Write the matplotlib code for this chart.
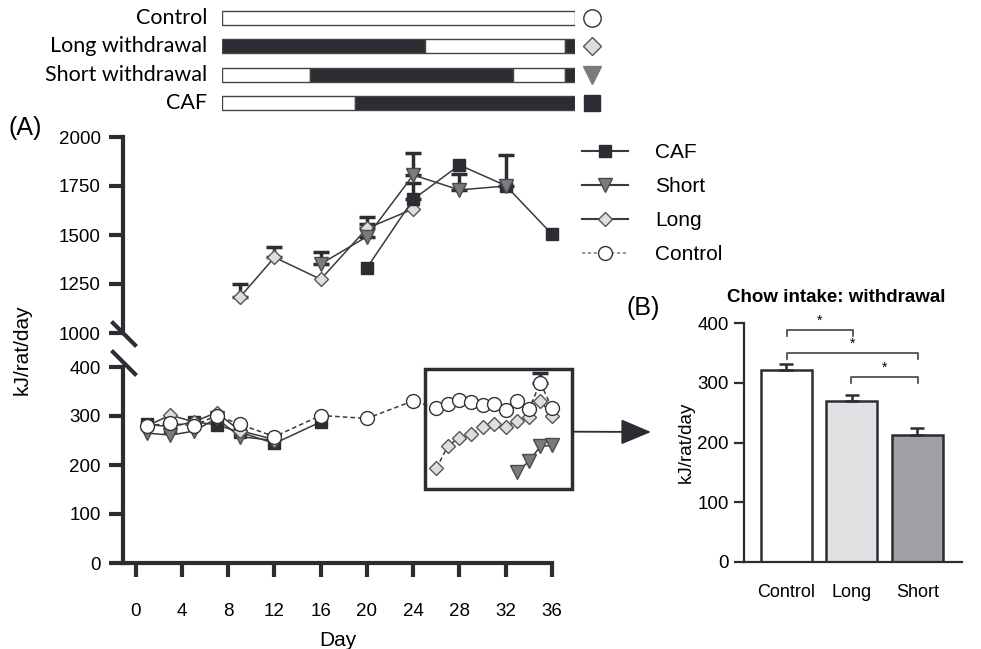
import numpy as np
import matplotlib.pyplot as plt
from matplotlib.lines import Line2D
from matplotlib.patches import Rectangle

plt.rcParams['font.family'] = ['Liberation Sans', 'DejaVu Sans']

W, H = 981, 649
DARK = '#2b2d33'


def fx(px):
    return px / W


def fy(py):
    return 1 - py / H


# ---- feeding schedule (fraction of timeline, 1 = CAF diet, 0 = chow) ----
sched_groups = ['Control', 'Long withdrawal', 'Short withdrawal', 'CAF']
sched_control = [(0.0, 1.0, 0)]
sched_long = [(0.0, 0.575, 1), (0.575, 0.972, 0), (0.972, 1.0, 1)]
sched_short = [(0.0, 0.25, 0), (0.25, 0.825, 1), (0.825, 0.972, 0), (0.972, 1.0, 1)]
sched_caf = [(0.0, 0.377, 0), (0.377, 1.0, 1)]

# ---- panel A, upper segment (CAF intake) ----
caf_up_days = [20, 24, 28, 32, 36]
caf_up = [1333, 1682, 1857, 1752, 1504]
caf_up_err = [0, 82, 0, 0, 0]
short_up_days = [16, 20, 24, 28, 32]
short_up = [1352, 1492, 1806, 1730, 1750]
short_up_err = [60, 100, 114, 80, 160]
long_up_days = [9, 12, 16, 20, 24]
long_up = [1182, 1386, 1274, 1534, 1633]
long_up_err = [68, 53, 0, 20, 0]

# ---- panel A, lower segment (chow intake) ----
caf_low_days = [1, 3, 5, 7, 9, 12, 16]
caf_low = [283, 278, 288, 282, 267, 244, 288]
short_low_days = [1, 3, 5, 7, 9, 12]
short_low = [265, 261, 269, 295, 258, 250]
long_low_days = [1, 3, 5, 7, 9, 12]
long_low = [280, 302, 288, 307, 270, 252]
ctrl_days = [1, 3, 5, 7, 9, 12, 16, 20, 24, 26, 27, 28, 29, 30, 31, 32, 33, 34, 35, 36]
ctrl = [280, 285, 280, 301, 283, 258, 301, 295, 331,
        316, 324, 333, 329, 322, 324, 312, 331, 314, 368, 316]
ctrl_err = [0] * 18 + [19, 0]
long_wd_days = [26, 27, 28, 29, 30, 31, 32, 33, 34, 35, 36]
long_wd = [193, 239, 256, 263, 278, 284, 278, 290, 298, 331, 300]
short_wd_days = [33, 34, 35, 36]
short_wd = [185, 208, 238, 240]

# ---- panel B ----
b_groups = ['Control', 'Long', 'Short']
b_vals = [321, 270, 212]
b_err = [10, 10, 13]
b_colors = ['white', '#e0e1e3', '#a0a1a4']
# (left bar, right bar, bracket height)
b_sig = [(0.01, 1.02, 389), (0.01, 2.01, 350), (0.99, 2.01, 310)]

styles = {
    'CAF': dict(marker='s', ms=9, mfc=DARK, mec=DARK),
    'Short': dict(marker='v', ms=10, mfc='#7a7b7e', mec='#4a4b4e', mew=1),
    'Long': dict(marker='D', ms=7.5, mfc='#dcdddf', mec='#55565a', mew=1),
    'Control': dict(marker='o', ms=10, mfc='white', mec='#333333', mew=1),
}

fig = plt.figure(figsize=(W / 100, H / 100), dpi=100)

# ---- schedule bars ----
ax_s = fig.add_axes([fx(222), fy(117), (575 - 222) / W, 113 / H])
ax_s.set_xlim(0, 1)
ax_s.set_ylim(3.5, -0.5)
ax_s.axis('off')
sched_all = [sched_control, sched_long, sched_short, sched_caf]
sched_marks = ['Control', 'Long', 'Short', 'CAF']
for i, segs in enumerate(sched_all):
    for start, end, on_caf in segs:
        ax_s.barh(i, end - start, left=start, height=0.5,
                  color=DARK if on_caf else 'white', edgecolor='#444444', lw=1)
    ax_s.text(-0.042, i, sched_groups[i], ha='right', va='center',
              fontsize=15.5, family='Lato')
    st = dict(styles[sched_marks[i]])
    st['ms'] = st['ms'] * 1.25
    if sched_marks[i] == 'Short':
        st['mec'] = '#7a7b7e'
    ax_s.plot([1.047], [i], clip_on=False, ls='none', **st)

# ---- panel A axes ----
ax_up = fig.add_axes([fx(123), fy(333), (552 - 123) / W, (333 - 137) / H])
ax_lo = fig.add_axes([fx(123), fy(563), (552 - 123) / W, (563 - 367) / H])
for ax in (ax_up, ax_lo):
    ax.set_xlim(-1.1, 36)
    ax.spines['top'].set_visible(False)
    ax.spines['right'].set_visible(False)
    for s in ('left', 'bottom'):
        ax.spines[s].set_linewidth(3)
        ax.spines[s].set_color(DARK)
    ax.tick_params(direction='out', length=10, width=3, color=DARK, labelsize=13.5)
ax_up.spines['bottom'].set_visible(False)
ax_up.set_xticks([])
ax_up.set_ylim(1000, 2000)
ax_up.set_yticks([1000, 1250, 1500, 1750, 2000])
ax_lo.set_ylim(0, 400)
ax_lo.set_yticks([0, 100, 200, 300, 400])
ax_lo.set_xticks(range(0, 37, 4))
ax_lo.tick_params(axis='x', pad=19)
ax_lo.tick_params(axis='y', pad=6)
ax_up.tick_params(axis='y', pad=6)
ax_lo.set_xlabel('Day', fontsize=15, labelpad=8)

line_kw = dict(color='#3a3a3a', lw=1.1, clip_on=False)
err_kw = dict(ls='none', ecolor=DARK, elinewidth=2.5, capsize=6, capthick=2.5, clip_on=False)


def up_errors(ax, days, vals, errs):
    # only draw bars that have an error (upper half only)
    keep = [i for i, e in enumerate(errs) if e > 0]
    d = [days[i] for i in keep]
    v = [vals[i] for i in keep]
    e = [errs[i] for i in keep]
    ax.errorbar(d, v, yerr=[np.zeros(len(e)), e], zorder=2, **err_kw)


# upper segment
for days, vals, errs, name in [(long_up_days, long_up, long_up_err, 'Long'),
                               (caf_up_days, caf_up, caf_up_err, 'CAF'),
                               (short_up_days, short_up, short_up_err, 'Short')]:
    up_errors(ax_up, days, vals, errs)
    ax_up.plot(days, vals, ls='-', zorder=3, **line_kw, **styles[name])

# lower segment
ax_lo.plot(caf_low_days, caf_low, ls='-', zorder=3, **line_kw, **styles['CAF'])
ax_lo.plot(short_low_days, short_low, ls='-', zorder=3, **line_kw, **styles['Short'])
ax_lo.plot(long_low_days, long_low, ls='-', zorder=3, **line_kw, **styles['Long'])
ax_lo.plot(long_wd_days, long_wd, ls=(0, (3, 2)), zorder=3, **line_kw, **styles['Long'])
ax_lo.plot(short_wd_days, short_wd, ls='-', zorder=3, **line_kw, **styles['Short'])
up_errors(ax_lo, ctrl_days, ctrl, ctrl_err)
ax_lo.plot(ctrl_days, ctrl, ls=(0, (3, 2)), zorder=4, **line_kw, **styles['Control'])

# zoom box and arrow to panel B
ax_lo.add_patch(Rectangle((25.0, 152), 12.7, 243, fill=False, lw=2.5,
                          ec=DARK, clip_on=False, zorder=5))
ax_lo.annotate('', xy=(fx(651), fy(432)), xycoords='figure fraction',
               xytext=(37.7, 268), textcoords='data',
               arrowprops=dict(arrowstyle='-|>,head_length=1.9,head_width=0.8',
                               mutation_scale=10, lw=1.3, color=DARK,
                               shrinkA=0, shrinkB=0))

# axis break marks
for y0 in (323, 352):
    fig.add_artist(Line2D([fx(113), fx(135)], [fy(y0), fy(y0 + 22)],
                          lw=3, color=DARK, transform=fig.transFigure))

fig.text(fx(22), fy(350), 'kJ/rat/day', rotation=90, ha='center', va='center', fontsize=15)
fig.text(fx(8), fy(128), '(A)', fontsize=18, va='center')

# legend
handles = [Line2D([], [], color='#3a3a3a', lw=1.5, **styles['CAF']),
           Line2D([], [], color='#3a3a3a', lw=1.5, **styles['Short']),
           Line2D([], [], color='#3a3a3a', lw=1.5, **styles['Long']),
           Line2D([], [], color='#888888', lw=1.2, ls=(0, (2, 1.5)), **styles['Control'])]
fig.legend(handles, ['CAF', 'Short', 'Long', 'Control'], loc='upper left',
           bbox_to_anchor=(fx(582), fy(143)), frameon=False, fontsize=15,
           handlelength=2.2, handletextpad=1.3, labelspacing=0.72,
           borderaxespad=0, borderpad=0)

# ---- panel B ----
axB = fig.add_axes([fx(744), fy(562), (962 - 744) / W, (562 - 323) / H])
pos = np.arange(len(b_groups))
axB.bar(pos, b_vals, width=0.776, color=b_colors, edgecolor=DARK, lw=1.8,
        yerr=[np.zeros(len(b_err)), b_err], capsize=5,
        error_kw=dict(elinewidth=1.8, capthick=1.8, ecolor=DARK))
axB.set_xlim(-0.639, 2.677)
axB.set_ylim(0, 400)
axB.set_yticks([0, 100, 200, 300, 400])
axB.set_xticks(pos, b_groups)
axB.spines['top'].set_visible(False)
axB.spines['right'].set_visible(False)
for s in ('left', 'bottom'):
    axB.spines[s].set_linewidth(1.6)
    axB.spines[s].set_color(DARK)
axB.tick_params(axis='y', direction='out', length=7, width=1.6, color=DARK, labelsize=13.5, pad=4)
axB.tick_params(axis='x', length=0, labelsize=13, pad=16)
axB.set_ylabel('kJ/rat/day', fontsize=13.5, labelpad=2)
for x1, x2, yb in b_sig:
    axB.plot([x1, x1, x2, x2], [yb - 11, yb, yb, yb - 11], color='#444444', lw=1.2,
             clip_on=False)
    axB.text((x1 + x2) / 2, yb + 3, '*', ha='center', va='bottom', fontsize=10)

fig.text(fx(836), fy(297), 'Chow intake: withdrawal', fontweight='bold',
         ha='center', va='center', fontsize=13.5)
fig.text(fx(626), fy(308), '(B)', fontsize=18, va='center')

fig.savefig('out.png', dpi=100)
